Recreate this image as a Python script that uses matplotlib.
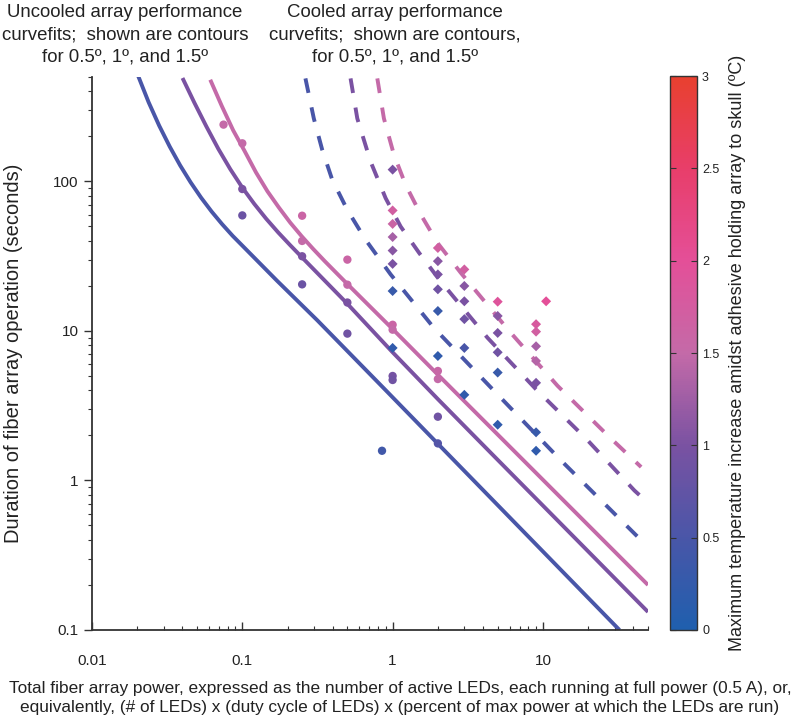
import numpy as np
import matplotlib
matplotlib.use('Agg')
import matplotlib.pyplot as plt
from matplotlib.colors import LinearSegmentedColormap, Normalize

plt.rcParams['font.family'] = ['Liberation Sans', 'DejaVu Sans']

# ---- curvefits (power, seconds) ----
# uncooled (solid) contours for 0.5, 1, 1.5 deg
unc_05_p = [0.0203, 0.0238, 0.028, 0.0329, 0.0386, 0.0453, 0.0532, 0.0625, 0.0734, 0.0862,
            0.102, 0.17, 0.315, 0.875, 2.0, 32.3]
unc_05_t = [507, 339, 236, 171, 128, 98.7, 77.9, 62.9, 51.8, 43.3,
            36.5, 21.7, 11.8, 4.13, 1.76, 0.1]
unc_10_p = [0.04, 0.048, 0.0577, 0.0693, 0.0832, 0.1, 0.1201, 0.1442, 0.1733, 0.2081,
            0.25, 0.5, 1.0, 2.0, 4.5, 50]
unc_10_t = [492, 336, 233, 165, 120.8, 91, 70.8, 56.3, 45.6, 37.5,
            31, 15.2, 7.2, 3.5, 1.53, 0.132]
unc_15_p = [0.0612, 0.073, 0.0869, 0.1035, 0.1233, 0.1469, 0.175, 0.2085, 0.2483, 0.2958,
            0.3524, 0.4198, 0.5, 1.0, 2.0, 50]
unc_15_t = [479, 320, 220, 160, 115, 86, 67, 53, 43, 35.4,
            29.4, 24.6, 20.6, 10.3, 5.1, 0.2]

# cooled (dashed) contours for 0.5, 1, 1.5 deg
cool_05_p = [0.263, 0.299, 0.340, 0.396, 0.499, 0.66, 0.97, 1.88, 4.5, 13.2, 41.7, 45]
cool_05_t = [489, 264, 163, 103, 64.7, 40.8, 23.9, 10.5, 4.19, 1.36, 0.43, 0.4]
cool_10_p = [0.525, 0.582, 0.713, 0.898, 1.13, 1.50, 2.04, 4.28, 8.98, 19.4, 40.6, 45]
cool_10_t = [489, 264, 136, 77.4, 50, 33.3, 22.1, 9.0, 4.08, 1.9, 0.857, 0.78]
cool_15_p = [0.791, 0.875, 1.02, 1.22, 1.54, 1.99, 2.84, 5.96, 12.5, 27.7, 45]
cool_15_t = [489, 264, 151, 95, 60, 38.8, 24.5, 10, 4.3, 1.95, 1.23]

# ---- measured points ----
# uncooled arrays (circles)
circ_p = [0.075, 0.1, 0.1, 0.1, 0.25, 0.25, 0.25, 0.25, 0.5, 0.5, 0.5, 0.5,
          0.85, 1, 1, 1, 1, 2, 2, 2, 2]
circ_t = [240, 180, 89, 59.3, 59, 40, 31.6, 20.5, 30, 20.4, 15.5, 9.6,
          1.58, 11, 10.2, 5.0, 4.7, 5.4, 4.77, 2.67, 1.77]
circ_temp = [1.5, 1.5, 1.0, 0.85, 1.6, 1.5, 1.0, 0.85, 1.6, 1.5, 1.0, 0.9,
             0.4, 1.6, 1.5, 0.95, 0.9, 1.55, 1.5, 0.9, 0.6]

# cooled arrays (diamonds)
diam_p = [1, 1, 1, 1, 1, 1, 1, 1,
          2, 2, 2, 2, 2, 2,
          3, 3, 3, 3, 3, 3,
          5, 5, 5, 5, 5, 5,
          9, 9, 9, 9, 9, 9, 9,
          10.5]
diam_t = [120, 64, 52, 42.5, 34.5, 28.1, 18.5, 7.7,
          35.9, 29.3, 23.9, 19, 13.6, 6.8,
          25.8, 20, 15.8, 12, 7.7, 3.74,
          15.7, 12.6, 9.7, 7.2, 5.27, 2.36,
          11.1, 9.9, 7.9, 6.3, 4.5, 2.1, 1.58,
          15.8]
diam_temp = [1.0, 1.7, 1.6, 1.3, 1.1, 1.0, 0.3, 0.2,
             1.7, 1.1, 1.0, 0.9, 0.3, 0.2,
             1.7, 1.1, 1.0, 0.9, 0.5, 0.2,
             1.9, 1.1, 1.0, 0.9, 0.3, 0.2,
             1.8, 1.7, 1.3, 1.4, 1.0, 0.3, 0.2,
             2.0]

cmap = LinearSegmentedColormap.from_list('temp', [
    (0.0, '#1f5fae'), (0.5 / 3, '#4a56a8'), (1.0 / 3, '#7a52a2'),
    (1.5 / 3, '#c46aa8'), (2.0 / 3, '#e44f98'), (2.5 / 3, '#e83e6a'),
    (1.0, '#e8402f')])
norm = Normalize(0, 3)

fig = plt.figure(figsize=(8, 7.18), dpi=100)
ax = fig.add_axes([0.115, 0.1226, 0.695, 0.7702])

lw = 2.8
for p, t, lev in [(unc_05_p, unc_05_t, 0.5), (unc_10_p, unc_10_t, 1.0), (unc_15_p, unc_15_t, 1.5)]:
    ax.plot(p, t, color=cmap(norm(lev)), lw=lw, solid_capstyle='butt', solid_joinstyle='round')
for p, t, lev in [(cool_05_p, cool_05_t, 0.5), (cool_10_p, cool_10_t, 1.0), (cool_15_p, cool_15_t, 1.5)]:
    ax.plot(p, t, color=cmap(norm(lev)), lw=lw, dashes=(3.8, 3.8), dash_capstyle='butt')

ax.scatter(circ_p, circ_t, c=circ_temp, cmap=cmap, norm=norm, s=36, marker='o',
           edgecolors='none', zorder=3)
sc = ax.scatter(diam_p, diam_t, c=diam_temp, cmap=cmap, norm=norm, s=26, marker='D',
                edgecolors='none', zorder=3)

ax.set_xscale('log')
ax.set_yscale('log')
ax.set_xlim(0.01, 50)
ax.set_ylim(0.1, 500)
ax.set_xticks([0.01, 0.1, 1, 10])
ax.set_xticklabels(['0.01', '0.1', '1', '10'])
ax.set_yticks([0.1, 1, 10, 100])
ax.set_yticklabels(['0.1', '1', '10', '100'])
for s in ['top', 'right']:
    ax.spines[s].set_visible(False)
for s in ['left', 'bottom']:
    ax.spines[s].set_color('#333333')
    ax.spines[s].set_linewidth(1.3)
ax.tick_params(axis='x', which='both', direction='in', colors='#333333', labelsize=11,
               labelcolor='#222222', pad=17)
ax.tick_params(axis='y', which='both', direction='out', colors='#333333', labelsize=11,
               labelcolor='#222222')
ax.tick_params(which='major', length=6, width=1.0)
ax.tick_params(which='minor', length=3, width=0.8)

ax.set_ylabel('Duration of fiber array operation (seconds)', fontsize=14.5, color='#222222',
              labelpad=22)
fig.text(0.5, 0.028,
         'Total fiber array power, expressed as the number of active LEDs, each running at full power (0.5 A), or,\n'
         'equivalently, (# of LEDs) x (duty cycle of LEDs) x (percent of max power at which the LEDs are run)',
         ha='center', va='center', fontsize=12.45, color='#222222', linespacing=1.3)

fig.text(0.156, 0.951, 'Uncooled array performance\ncurvefits;  shown are contours\nfor 0.5º, 1º, and 1.5º',
         ha='center', va='center', fontsize=13.4, color='#222222', linespacing=1.4)
fig.text(0.494, 0.951, 'Cooled array performance\ncurvefits;  shown are contours,\nfor 0.5º, 1º, and 1.5º',
         ha='center', va='center', fontsize=13.4, color='#222222', linespacing=1.4)

cax = fig.add_axes([0.8375, 0.1226, 0.034, 0.7715])
cb = fig.colorbar(sc, cax=cax, ticks=[0, 0.5, 1, 1.5, 2, 2.5, 3])
cb.ax.set_yticklabels(['0', '0.5', '1', '1.5', '2', '2.5', '3'])
cb.outline.set_edgecolor('#333333')
cb.outline.set_linewidth(1.0)
cb.ax.tick_params(direction='in', length=4, labelsize=9, colors='#333333', labelcolor='#222222',
                  left=True, right=True)
cb.set_label('Maximum temperature increase amidst adhesive holding array to skull (ºC)',
             fontsize=13, color='#222222', labelpad=7)

fig.savefig('out.png', dpi=100)
